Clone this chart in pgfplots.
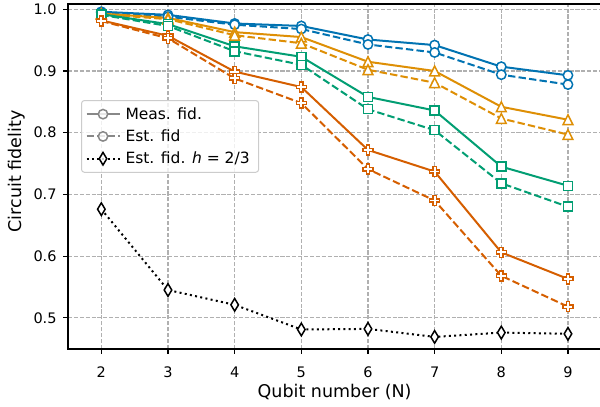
\documentclass[border=0pt]{standalone}
\usepackage{fontspec}
\setmainfont{DejaVu Sans}
\usepackage{pgfplots}
\pgfplotsset{compat=1.18}
\definecolor{cbBlue}{HTML}{0173B2}
\definecolor{cbOrange}{HTML}{DE8F05}
\definecolor{cbGreen}{HTML}{029E73}
\definecolor{cbRed}{HTML}{D55E00}
\definecolor{gridgray}{HTML}{B0B0B0}
\definecolor{leggray}{HTML}{888888}

\pgfdeclareplotmark{mtri}{%
  \pgfpathmoveto{\pgfqpoint{0pt}{\pgfplotmarksize}}%
  \pgfpathlineto{\pgfqpoint{\pgfplotmarksize}{-\pgfplotmarksize}}%
  \pgfpathlineto{\pgfqpoint{-\pgfplotmarksize}{-\pgfplotmarksize}}%
  \pgfpathclose
  \pgfusepathqfillstroke
}
\pgfdeclareplotmark{mplus}{%
  \pgfmathsetmacro{\mpS}{\pgfplotmarksize}%
  \pgfmathsetmacro{\mpA}{\pgfplotmarksize/3}%
  \pgfpathmoveto{\pgfpoint{-\mpA pt}{\mpS pt}}%
  \pgfpathlineto{\pgfpoint{\mpA pt}{\mpS pt}}%
  \pgfpathlineto{\pgfpoint{\mpA pt}{\mpA pt}}%
  \pgfpathlineto{\pgfpoint{\mpS pt}{\mpA pt}}%
  \pgfpathlineto{\pgfpoint{\mpS pt}{-\mpA pt}}%
  \pgfpathlineto{\pgfpoint{\mpA pt}{-\mpA pt}}%
  \pgfpathlineto{\pgfpoint{\mpA pt}{-\mpS pt}}%
  \pgfpathlineto{\pgfpoint{-\mpA pt}{-\mpS pt}}%
  \pgfpathlineto{\pgfpoint{-\mpA pt}{-\mpA pt}}%
  \pgfpathlineto{\pgfpoint{-\mpS pt}{-\mpA pt}}%
  \pgfpathlineto{\pgfpoint{-\mpS pt}{\mpA pt}}%
  \pgfpathlineto{\pgfpoint{-\mpA pt}{\mpA pt}}%
  \pgfpathclose
  \pgfusepathqfillstroke
}
\pgfdeclareplotmark{mdiam}{%
  \pgfmathsetmacro{\mpS}{\pgfplotmarksize}%
  \pgfmathsetmacro{\mpW}{0.6*\pgfplotmarksize}%
  \pgfpathmoveto{\pgfpoint{0pt}{\mpS pt}}%
  \pgfpathlineto{\pgfpoint{\mpW pt}{0pt}}%
  \pgfpathlineto{\pgfpoint{0pt}{-\mpS pt}}%
  \pgfpathlineto{\pgfpoint{-\mpW pt}{0pt}}%
  \pgfpathclose
  \pgfusepathqfillstroke
}

\pgfplotsset{
  meas/.style={line width=2pt, mark options={solid, fill=white, line width=1.5pt}},
  est/.style={line width=2pt, dash pattern=on 7.4pt off 3.2pt, mark options={solid, fill=white, line width=1.5pt}},
}

\begin{document}
\begin{tikzpicture}
\begin{axis}[
  at={(0,0)}, anchor=south west,
  scale only axis, width=533.3pt, height=345pt,
  xmin=1.5, xmax=9.5, ymin=0.4494, ymax=1.0086,
  xtick={2,3,4,5,6,7,8,9},
  ytick={0.5,0.6,0.7,0.8,0.9,1.0},
  /pgf/number format/assume math mode=true,
  ticklabel style={font=\fontsize{14.5}{17}\selectfont},
  xticklabel style={yshift=-9pt},
  yticklabel style={xshift=-3pt, /pgf/number format/.cd, fixed, fixed zerofill, precision=1},
  grid=major,
  major grid style={gridgray, dash pattern=on 4.1pt off 1.8pt, line width=1.1pt},
  axis line style={line width=1.1pt},
  tick style={black, line width=1.1pt},
  major tick length=4.9pt, tick align=outside,
  xtick pos=lower, ytick pos=left,
  xlabel={Qubit number (N)},
  ylabel={Circuit fidelity},
  label style={font=\fontsize{17.5}{20}\selectfont},
  xlabel style={at={(axis description cs:0.5,0)}, anchor=base, yshift=-48pt},
  ylabel style={at={(axis description cs:-0.0881,0.5145)}, anchor=base},
  legend style={at={(axis description cs:0.0244,0.7217)}, anchor=north west,
    draw=black!20, line width=1pt, rounded corners=3pt, fill=white, fill opacity=0.8, text opacity=1,
    font=\fontsize{15.5}{18}\selectfont, inner xsep=4pt, inner ysep=5pt, row sep=5pt,
    nodes={inner xsep=5pt}},
  legend cell align=left,
  legend image code/.code={\draw[mark repeat=2,mark phase=2] plot coordinates {(0pt,0pt) (16.5pt,0pt) (33pt,0pt)};},
]
\addlegendimage{leggray, line width=2pt, mark=*, mark size=4.7pt, mark options={solid, fill=white, line width=1.5pt}}
\addlegendentry{Meas. fid.}
\addlegendimage{leggray, line width=2pt, dash pattern=on 7.4pt off 3.2pt, mark=*, mark size=4.7pt, mark options={solid, fill=white, line width=1.5pt}}
\addlegendentry{Est. fid}
\addlegendimage{black, line width=2pt, dash pattern=on 2pt off 3.3pt, mark=mdiam, mark size=6.3pt, mark options={solid, fill=white, line width=1.5pt}}
\addlegendentry{Est. fid. \textit{h} = 2/3}

% blue
\addplot[forget plot, meas, cbBlue, mark=*, mark size=4.7pt] coordinates {(2,0.996)(3,0.991)(4,0.977)(5,0.973)(6,0.951)(7,0.942)(8,0.907)(9,0.893)};
\addplot[forget plot, est, cbBlue, mark=*, mark size=4.7pt] coordinates {(2,0.995)(3,0.988)(4,0.975)(5,0.968)(6,0.943)(7,0.930)(8,0.894)(9,0.878)};
% orange
\addplot[forget plot, meas, cbOrange, mark=mtri, mark size=4.9pt] coordinates {(2,0.993)(3,0.986)(4,0.963)(5,0.955)(6,0.915)(7,0.900)(8,0.842)(9,0.821)};
\addplot[forget plot, est, cbOrange, mark=mtri, mark size=4.9pt] coordinates {(2,0.992)(3,0.984)(4,0.958)(5,0.945)(6,0.902)(7,0.881)(8,0.823)(9,0.797)};
% green
\addplot[forget plot, meas, cbGreen, mark=square*, mark size=4.5pt] coordinates {(2,0.992)(3,0.976)(4,0.940)(5,0.923)(6,0.858)(7,0.836)(8,0.745)(9,0.714)};
\addplot[forget plot, est, cbGreen, mark=square*, mark size=4.5pt] coordinates {(2,0.991)(3,0.973)(4,0.932)(5,0.910)(6,0.838)(7,0.804)(8,0.718)(9,0.680)};
% red
\addplot[forget plot, meas, cbRed, mark=mplus, mark size=5pt] coordinates {(2,0.982)(3,0.957)(4,0.899)(5,0.874)(6,0.772)(7,0.737)(8,0.606)(9,0.563)};
\addplot[forget plot, est, cbRed, mark=mplus, mark size=5pt] coordinates {(2,0.981)(3,0.953)(4,0.888)(5,0.848)(6,0.741)(7,0.690)(8,0.568)(9,0.518)};
% black dotted
\addplot[forget plot, black, line width=2pt, dash pattern=on 2pt off 3.3pt, mark=mdiam, mark size=6.3pt, mark options={solid, fill=white, line width=1.5pt}] coordinates {(2,0.676)(3,0.545)(4,0.521)(5,0.481)(6,0.482)(7,0.469)(8,0.476)(9,0.474)};
\end{axis}
\pgfresetboundingbox
\useasboundingbox (-68pt,-58pt) rectangle (532pt,349pt);
\end{tikzpicture}
\end{document}
